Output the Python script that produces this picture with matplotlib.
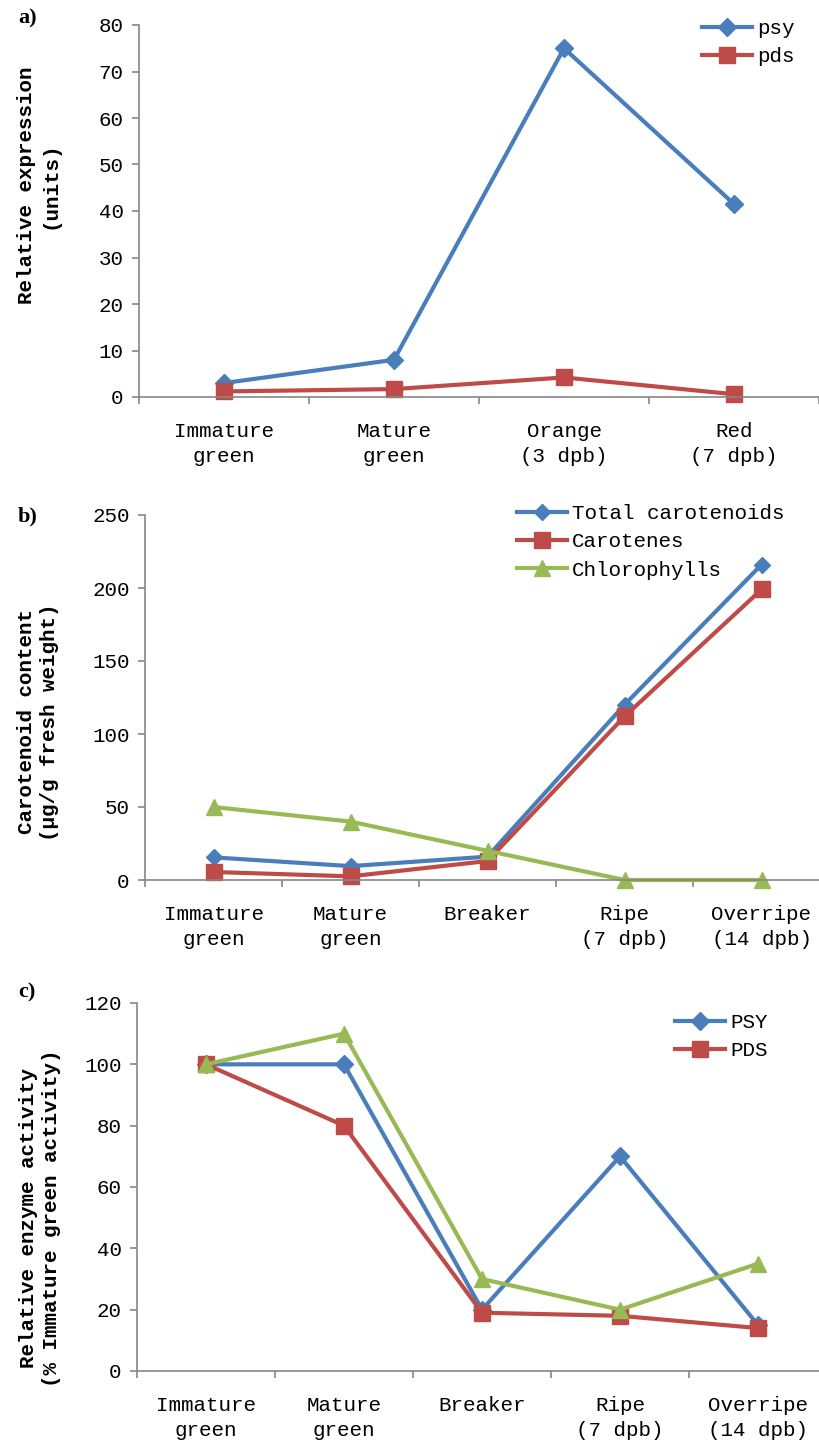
import matplotlib.pyplot as plt
import numpy as np

#-Colors-------------------------------------------
blue = "#4A7EBB"
red = "#BE4B48"
green = "#98B954"
axis_gray = "#868686"
#--------------------------------------------------

# a) gene expression
stages_a = ["Immature\ngreen", "Mature\ngreen", "Orange\n(3 dpb)", "Red\n(7 dpb)"]
psy_expr = [3, 8, 75, 41.5]
pds_expr = [1.2, 1.7, 4.2, 0.6]

# b) pigment content
stages_bc = ["Immature\ngreen", "Mature\ngreen", "Breaker", "Ripe\n(7 dpb)", "Overripe\n(14 dpb)"]
total_carot = [15.5, 9.5, 16, 120, 216]
carotenes = [5.5, 2.5, 13, 112, 199]
chlorophylls = [50, 40, 20, 0, 0]

# c) enzyme activity
psy_act = [100, 100, 20, 70, 15]
pds_act = [100, 80, 19, 18, 14]
third_act = [100, 110, 30, 20, 35]

W, H = 819, 1441
mono = "Liberation Mono"
fs = 15

fig = plt.figure(figsize=(W / 100, H / 100), dpi=100)


def make_axes(left, right, top, bottom):
    return fig.add_axes([left / W, 1 - bottom / H, (right - left) / W, (bottom - top) / H])


def style(ax, labels, ymax, ystep):
    n = len(labels)
    ax.set_xlim(0, n)
    ax.set_ylim(0, ymax)
    ax.set_yticks(np.arange(0, ymax + 1, ystep))
    ax.set_xticks(np.arange(n) + 0.5, labels)
    ax.set_xticks(np.arange(n + 1), minor=True)
    ax.tick_params(axis="x", which="major", length=0, pad=18)
    ax.tick_params(axis="x", which="minor", length=5, color=axis_gray, width=1.2)
    ax.tick_params(axis="y", length=5, color=axis_gray, width=1.2, pad=6)
    for lab in ax.get_xticklabels():
        lab.set_linespacing(1.4)
    for lab in ax.get_xticklabels() + ax.get_yticklabels():
        lab.set_fontfamily(mono)
        lab.set_fontsize(fs)
    for s in ["top", "right"]:
        ax.spines[s].set_visible(False)
    for s in ["left", "bottom"]:
        ax.spines[s].set_color(axis_gray)
        ax.spines[s].set_linewidth(1.2)


def series(ax, vals, color, marker, ms, label=None):
    x = np.arange(len(vals)) + 0.5
    ax.plot(x, vals, color=color, lw=3, marker=marker, ms=ms, label=label,
            clip_on=False, solid_joinstyle="miter")


def legend(ax, x, y):
    ax.legend(loc="upper left", bbox_to_anchor=(x / W, 1 - y / H),
              bbox_transform=fig.transFigure, frameon=False,
              prop={"family": mono, "size": fs}, handlelength=2.4,
              handletextpad=0.25, labelspacing=0.45, borderpad=0, borderaxespad=0)


# a
ax1 = make_axes(139, 819, 25, 397)
style(ax1, stages_a, 80, 10)
series(ax1, psy_expr, blue, "D", 9, "psy")
series(ax1, pds_expr, red, "s", 11, "pds")
legend(ax1, 702, 19)

# b
ax2 = make_axes(145, 830, 515, 880)
style(ax2, stages_bc, 250, 50)
series(ax2, total_carot, blue, "D", 8, "Total carotenoids")
series(ax2, carotenes, red, "s", 11, "Carotenes")
series(ax2, chlorophylls, green, "^", 11, "Chlorophylls")
legend(ax2, 517, 504)

# c
ax3 = make_axes(137, 827, 1003, 1371)
style(ax3, stages_bc, 120, 20)
series(ax3, psy_act, blue, "D", 9, "PSY")
series(ax3, pds_act, red, "s", 11, "PDS")
series(ax3, third_act, green, "^", 12)
legend(ax3, 675, 1013)

# y labels and panel letters
ylab = dict(rotation=90, ha="center", va="center", multialignment="center",
            family=mono, fontweight="bold", fontsize=fs, linespacing=1.3)
fig.text(38 / W, 1 - 185 / H, "Relative expression\n(units)", **ylab)
fig.text(38 / W, 1 - 722 / H, "Carotenoid content\n(\u00b5g/g fresh weight)", **ylab)
fig.text(40 / W, 1 - 1218 / H, "Relative enzyme activity\n(% Immature green activity)", **ylab)

plab = dict(family="Liberation Serif", fontweight="bold", fontsize=16, ha="left", va="center")
fig.text(18 / W, 1 - 18 / H, "a)", **plab)
fig.text(18 / W, 1 - 516 / H, "b)", **plab)
fig.text(18 / W, 1 - 992 / H, "c)", **plab)

fig.savefig("out.png", dpi=100)
